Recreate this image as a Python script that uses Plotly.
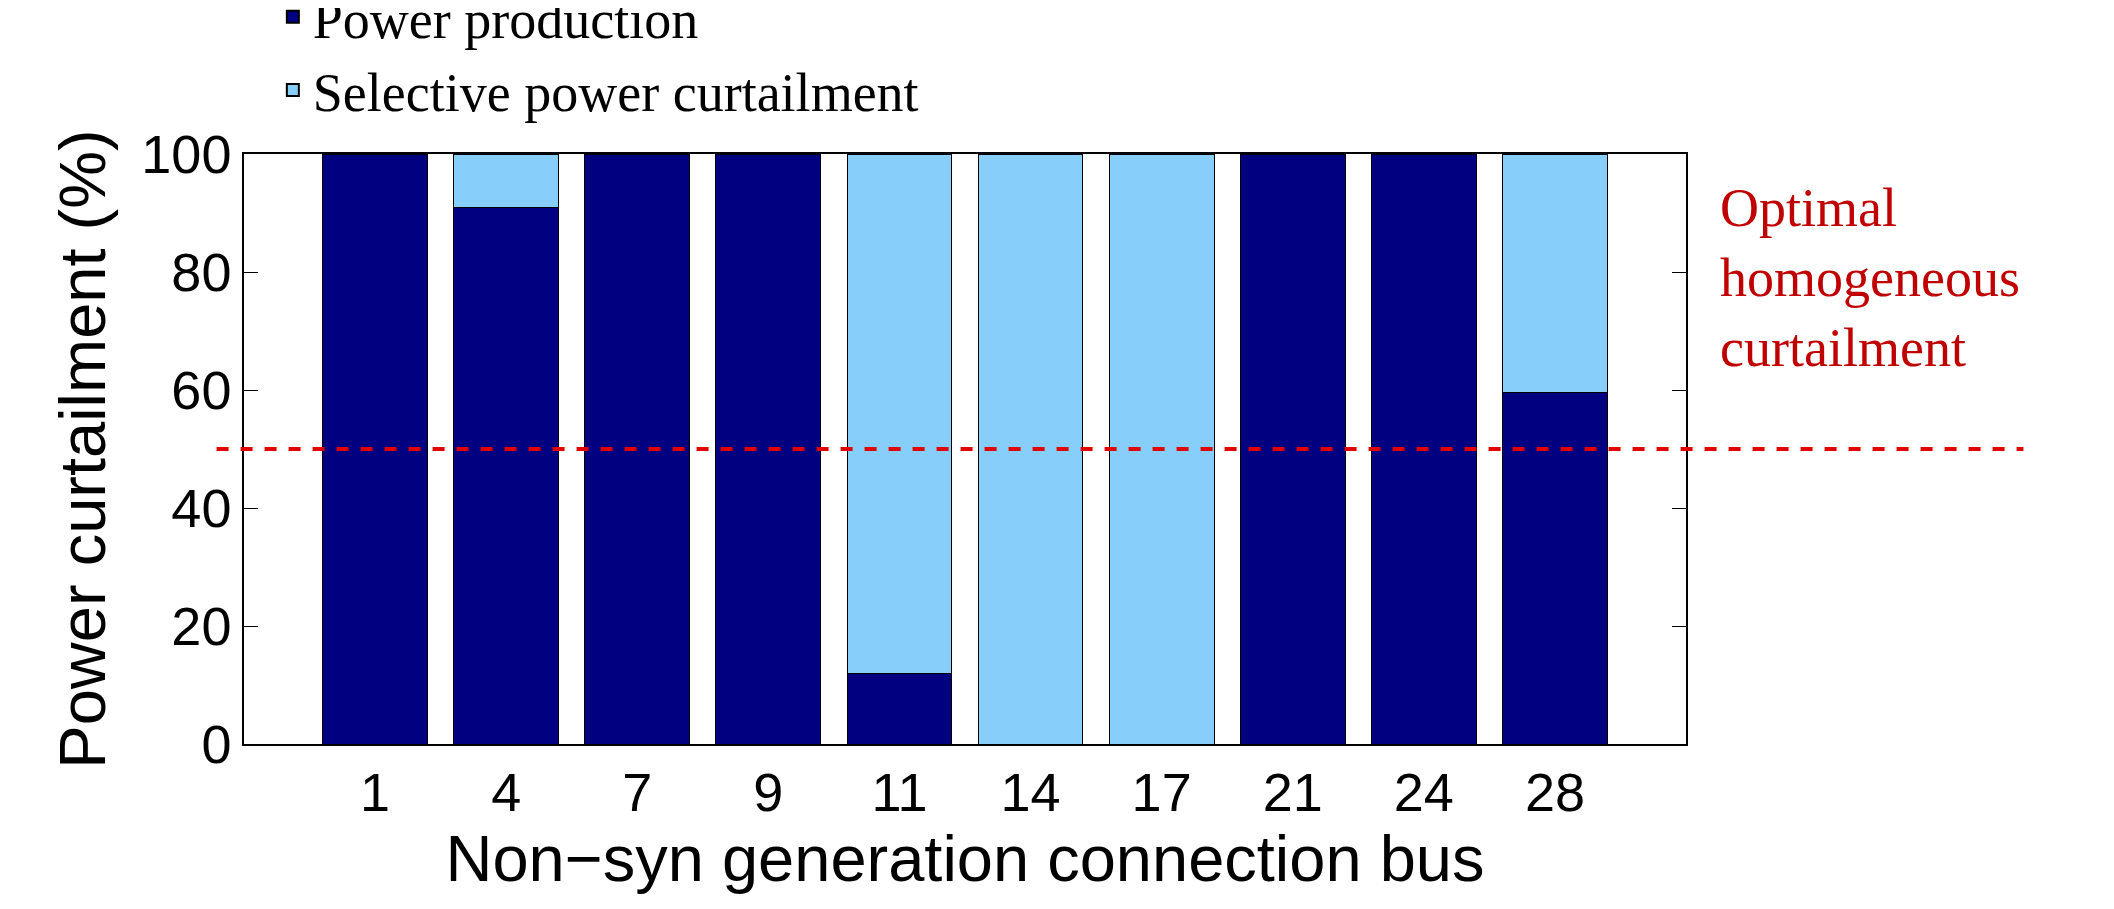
import plotly.graph_objects as go

buses = ["1", "4", "7", "9", "11", "14", "17", "21", "24", "28"]
production = [100, 91, 100, 100, 12, 0, 0, 100, 100, 59.5]
curtailment = [0, 9, 0, 0, 88, 100, 100, 0, 0, 40.5]
optimal_level = 50

fig = go.Figure()
fig.add_trace(go.Bar(x=buses, y=production, name="Power production",
                     marker=dict(color="#000080", line=dict(color="black", width=1)), width=0.8))
fig.add_trace(go.Bar(x=buses, y=curtailment, name="Selective power curtailment",
                     marker=dict(color="#87CEFA", line=dict(color="black", width=1)), width=0.8))

fig.add_shape(type="line", xref="paper", yref="y", x0=-0.019, x1=1.234,
              y0=optimal_level, y1=optimal_level,
              line=dict(color="#E00000", width=4, dash="dash"))
fig.add_annotation(xref="paper", yref="paper", x=1.022, y=0.79, xanchor="left", yanchor="middle",
                   text="Optimal<br>homogeneous<br>curtailment", showarrow=False, align="left",
                   font=dict(family="Liberation Serif", size=54, color="#C00000"))

fig.update_layout(
    barmode="stack",
    width=2114, height=909,
    plot_bgcolor="white", paper_bgcolor="white",
    margin=dict(l=236, r=436, t=146, b=173, autoexpand=False),
    font=dict(family="Liberation Sans", size=54, color="black"),
    legend=dict(orientation="h", x=0.02, y=1.17, xanchor="left", yanchor="middle",
                traceorder="normal", font=dict(family="Liberation Serif", size=54),
                entrywidth=730, entrywidthmode="pixels", itemsizing="constant",
                bgcolor="rgba(0,0,0,0)"),
)
fig.update_xaxes(title_text="Non\u2212syn generation connection bus", range=[-1, 10],
                 showline=True, linecolor="black", linewidth=1.5, mirror=True,
                 ticks="", title_standoff=8)
fig.update_yaxes(title_text="Power curtailment (%)", range=[0, 100], dtick=20,
                 showline=True, linecolor="black", linewidth=1.5, mirror="allticks",
                 ticks="inside", ticklen=14, tickcolor="black", showgrid=False,
                 zeroline=False, title_standoff=15)

fig.write_html("out.html")
